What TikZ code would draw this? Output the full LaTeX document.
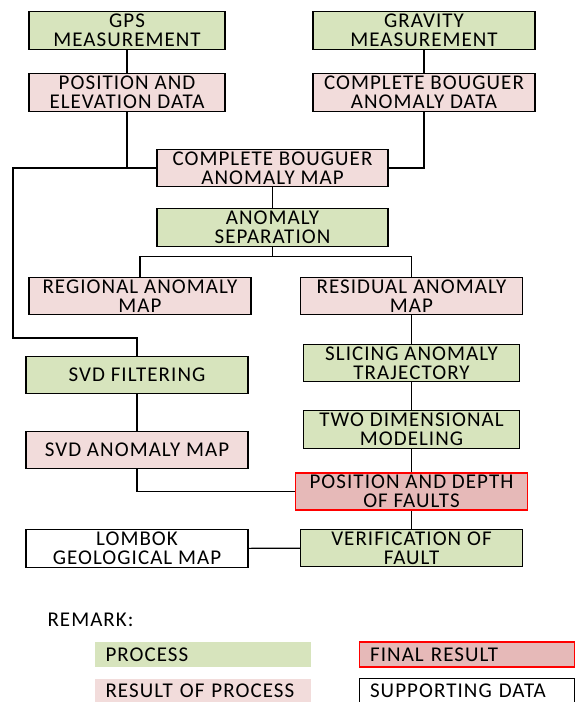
\documentclass[tikz,border=0pt]{standalone}
\usepackage{fontspec}
\setmainfont{Carlito}[LetterSpace=5]

\definecolor{procgreen}{RGB}{215,228,189}
\definecolor{respink}{RGB}{242,220,219}
\definecolor{finalpink}{RGB}{230,185,184}

\begin{document}
\begin{tikzpicture}[x=1pt, y=-1pt, line width=1.1pt,
    box/.style={draw, align=center, inner sep=0pt, minimum height=37.5pt,
        font=\fontsize{21}{19}\selectfont},
    proc/.style={box, fill=procgreen},
    res/.style={box, fill=respink},
    legend/.style={anchor=west, minimum height=25pt, text width=194pt,
        inner xsep=11pt, inner ysep=0pt, align=left, font=\fontsize{21}{19}\selectfont}]
    \useasboundingbox (0,0) rectangle (574,702);

    \node[proc, minimum width=196pt] (gps) at (127,30.5) {GPS\\MEASUREMENT};
    \node[res, minimum width=196pt] (pos) at (127,92.5) {POSITION AND\\ELEVATION DATA};
    \node[proc, minimum width=222pt] (grav) at (424,30.5) {GRAVITY\\MEASUREMENT};
    \node[res, minimum width=222pt] (cbdata) at (424,92.5) {COMPLETE BOUGUER\\ANOMALY DATA};

    \node[res, minimum width=231pt] (cbmap) at (272.5,168) {COMPLETE BOUGUER\\ANOMALY MAP};
    \node[proc, minimum width=231pt] (sep) at (272.5,227.5) {ANOMALY\\SEPARATION};

    \node[res, minimum width=222pt] (regional) at (140,296) {REGIONAL ANOMALY\\MAP};
    \node[res, minimum width=222pt] (residual) at (411.5,296) {RESIDUAL ANOMALY\\MAP};
    \node[proc, minimum width=216pt] (slicing) at (411.5,363) {SLICING ANOMALY\\TRAJECTORY};
    \node[proc, minimum width=216pt] (model) at (411.5,429.5) {TWO DIMENSIONAL\\MODELING};
    \node[box, fill=finalpink, draw=red, line width=1.6pt, minimum width=232pt]
        (final) at (411.5,491.5) {POSITION AND DEPTH\\OF FAULTS};
    \node[proc, minimum width=222pt] (verif) at (411.5,548) {VERIFICATION OF\\FAULT};

    \node[proc, minimum width=222pt] (svdf) at (137,375) {SVD FILTERING};
    \node[res, minimum width=222pt] (svdmap) at (137,450) {SVD ANOMALY MAP};
    \node[box, fill=white, minimum width=222pt] (lombok) at (137,548.5) {LOMBOK\\GEOLOGICAL MAP};

    \coordinate (bend) at (13,338);

    \draw (gps) -- (pos);
    \draw (pos) |- (cbmap);
    \draw (grav) -- (cbdata);
    \draw (cbdata) |- (cbmap);
    \draw (cbmap) -- (sep);
    \draw (sep.south) -- ++(0,10) -| (regional);
    \draw (sep.south) -- ++(0,10) -| (residual);
    \draw (residual) -- (slicing);
    \draw (slicing) -- (model);
    \draw (model) -- (final);
    \draw (final) -- (verif);
    \draw (cbmap) -| (bend) -| (svdf);
    \draw (svdf) -- (svdmap);
    \draw (svdmap) |- (final);
    \draw (lombok) -- (verif);

    % remark
    \node[anchor=west, inner sep=0pt, font=\fontsize{21}{19}\selectfont] (remark) at (47,620) {REMARK:};
    \node[legend, fill=procgreen] (lgproc) at (94,654.5) {PROCESS};
    \node[legend, fill=respink] (lgres) at (94,691) {RESULT OF PROCESS};
    \node[legend, fill=finalpink, draw=red, line width=1.3pt, text width=193pt] (lgfinal) at (358.5,654.5) {FINAL RESULT};
    \node[legend, draw, text width=193pt] (lgsupp) at (358.5,691) {SUPPORTING DATA};
\end{tikzpicture}
\end{document}
